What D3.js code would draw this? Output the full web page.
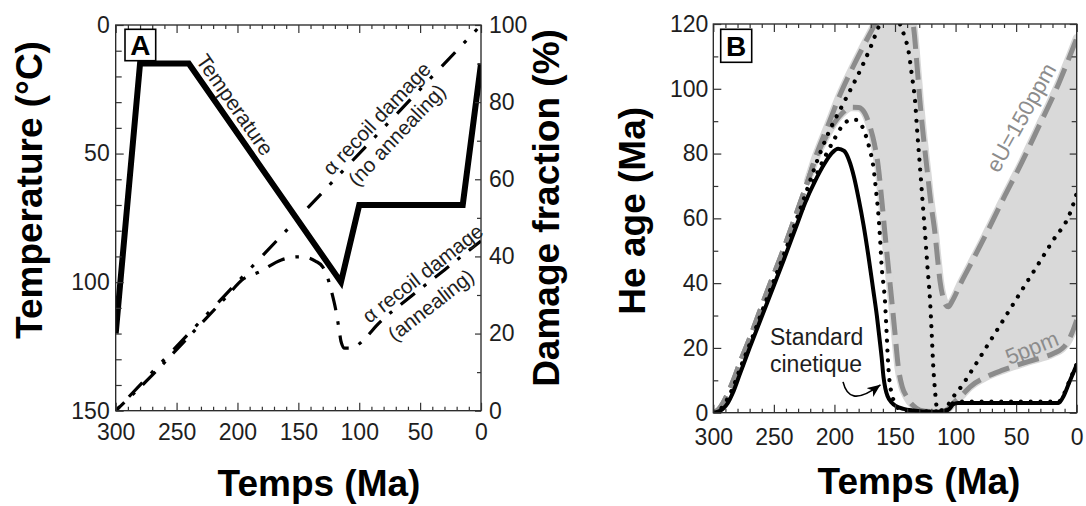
<!DOCTYPE html>
<html><head><meta charset="utf-8">
<script src="https://cdn.jsdelivr.net/npm/d3@7"></script>
<style>
body{margin:0;background:#fff;}
svg{display:block;font-family:"Liberation Sans",Arial,Helvetica,sans-serif;}
</style></head><body>
<svg id="chart" width="1086" height="506"></svg>
<script>
// ---------- DATA : panel A ----------
const tempTime = [300, 280, 240, 115, 100, 15, 0];
const tempVal  = [120, 15, 15, 100, 70, 70, 15];

const noAnnealTime = [300, 0];
const noAnnealVal  = [0, 100];

const annealTime = [300, 270, 240, 210, 195, 182, 164, 150, 144, 136, 130, 126, 122.5, 119.5, 116.5, 115, 112, 107, 95, 86, 60, 30, 15, 0];
const annealVal  = [0, 9.2, 19.2, 29.2, 34.2, 36, 39.1, 39.9, 39.8, 38.8, 37.3, 34.5, 30.6, 26.5, 21, 18, 16.2, 16.2, 18.8, 22, 29, 36.5, 40.3, 44];

const timeLabels = [300, 250, 200, 150, 100, 50, 0];
const tempLabels = [0, 50, 100, 150];
const damageLabels = [0, 20, 40, 60, 80, 100];

// ---------- DATA : panel B ----------
const stdTime = [300, 296, 292, 288, 284, 278, 270, 256, 242, 232, 224, 216, 208, 202, 197, 192, 188, 184, 180, 176, 172, 168, 165, 162.5, 161, 159.5, 158, 156, 153, 149, 143, 135, 120, 110, 105, 102, 98, 15, 11, 6, 0];
const stdAge  = [0, 0.3, 1.2, 3, 6, 12, 20, 33.5, 47, 57, 65, 71.5, 77, 80.2, 81.5, 80.8, 78, 73, 66, 58, 48.5, 38, 30, 22, 17, 11, 7.5, 5, 3.2, 2, 1.2, 0.7, 0.3, 0.4, 1.2, 2.6, 3, 3, 5, 9.5, 14.8];

const hiTime = [300, 296, 292, 288, 284, 278, 270, 256, 242, 230, 222, 216, 205, 195, 185, 177, 170, 163, 155, 148, 141, 137, 134.5, 132, 129.5, 126.5, 123.8, 120.5, 117, 115, 112.8, 110.5, 108, 106, 103, 95, 88, 75, 60.6, 45, 33, 15, 0];
const hiAge  = [0, 0.9, 3, 6, 9.5, 15.5, 23, 37, 50.5, 63, 71.5, 78.5, 89, 98.5, 106.5, 112.5, 117.5, 122.5, 127, 128.5, 126.5, 123, 118.5, 108, 96.5, 85, 76, 65, 55.4, 48, 40.5, 35.8, 33.2, 32.7, 34.3, 40.5, 45.5, 55, 66, 77.5, 87, 101.5, 115.6];

const loTime = [300, 296, 292, 288, 284, 278, 270, 256, 242, 230, 222, 216, 205, 194, 186, 180, 175, 170.6, 167, 163.8, 161, 158.3, 155.5, 152.7, 150, 147.3, 144, 140.3, 135, 129.4, 120, 110, 106, 101.9, 95, 88, 75, 60.6, 40, 19.3, 12, 8.3, 4, 0];
const loAge  = [0, 0.9, 3, 6, 9.5, 15.5, 23, 37, 50.5, 63, 71.5, 78, 86.5, 92.3, 94.3, 94.2, 92.5, 88.3, 83, 76, 66, 55.4, 45, 34.8, 24.5, 14.2, 8, 4.9, 2.2, 0.8, 0.4, 0.5, 1.2, 2.9, 5.3, 8, 11, 13.2, 15.8, 18.3, 19.8, 21.4, 24.5, 28.6];

const dotHiTime = [300, 296, 292, 288, 284, 278, 270, 256, 242, 230, 222, 216, 205, 191.2, 177.3, 170, 162.4, 155, 150, 145.9, 142, 139, 136, 133.5, 131.5, 129.4, 127.3, 125.2, 123.2, 121.1, 119.7, 118.4, 117, 115.6, 113.5, 110, 106, 101.9, 95, 88, 74.3, 60.6, 46.8, 33, 19.3, 5.5, 0];
const dotHiAge  = [0, 0.5, 2, 4.5, 7.5, 13.5, 21, 35, 48.5, 61, 69.5, 76, 86.3, 96.5, 106.8, 113, 120, 124, 123.5, 120, 116, 112, 104, 96.5, 86, 76, 65.5, 55.4, 45, 34.8, 24.5, 14.2, 7, 1.9, 0.6, 1, 2.5, 4.9, 8.2, 12.2, 20.4, 28.6, 36.9, 45.1, 53.3, 61.6, 67.7];

const dotLoTime = [300, 296, 292, 288, 284, 278, 270, 256, 242, 230, 222, 216, 207.8, 200, 194, 188, 182, 178, 174.8, 171, 167.9, 165.5, 163.8, 162.2, 161, 159.5, 158.3, 157.5, 156.9, 156.2, 155.5, 154.3, 152.7, 150.5, 147.3, 140, 120, 110, 105, 102, 98, 15, 11, 6, 0];
const dotLoAge  = [0, 0.4, 1.6, 3.8, 7, 13, 20.7, 34.3, 47.8, 59.5, 67, 72.5, 79, 84.5, 88.3, 90.2, 90.4, 89, 86.3, 81.5, 76, 68, 61.6, 53, 45.1, 39.5, 34.8, 29, 24.5, 19, 14.2, 9, 6, 3, 1.4, 0.6, 0.4, 0.5, 1.5, 3, 3.4, 3.4, 5.4, 9.8, 15];

const ageLabels = [0, 20, 40, 60, 80, 100, 120];

// ---------- helpers ----------
const zip = (a, b) => a.map((v, i) => [v, b[i]]);
const svg = d3.select("#chart");
const defs = svg.append("defs");
const ink = "#1e1e1e";
const grayLine = "#8c8c8c";
const fillGray = "#d9d9d9";

function clip(id, r) {
  defs.append("clipPath").attr("id", id).append("rect")
    .attr("x", r.left).attr("y", r.top)
    .attr("width", r.right - r.left).attr("height", r.bottom - r.top);
}

function ticks(g, axisFn, scale, major, minor, majLen, minLen, labels, pad, fs) {
  const minorVals = minor.filter(v => !major.includes(v));
  const a1 = axisFn(scale).tickValues(minorVals).tickSize(-minLen).tickSizeOuter(0).tickFormat("");
  const gm = g.append("g").call(a1);
  gm.select(".domain").remove();
  const a2 = axisFn(scale).tickValues(major).tickSize(-majLen).tickSizeOuter(0).tickPadding(pad)
    .tickFormat(labels ? d3.format("d") : "");
  const gM = g.append("g").call(a2);
  gM.select(".domain").remove();
  g.selectAll("line").attr("stroke", "#333").attr("stroke-width", 1.2);
  g.selectAll("text").attr("font-size", fs).attr("fill", ink)
    .attr("font-family", '"Liberation Sans",Arial,Helvetica,sans-serif');
}

// ================= PANEL A =================
const A = {left: 115.7, right: 481, top: 25, bottom: 410.7};
const xA = d3.scaleLinear().domain([300, 0]).range([A.left, A.right]);
const yT = d3.scaleLinear().domain([0, 150]).range([A.top, A.bottom]);
const yD = d3.scaleLinear().domain([0, 100]).range([A.bottom, A.top]);
clip("clipA", A);
const gA = svg.append("g");
const plotA = gA.append("g").attr("clip-path", "url(#clipA)");

const lineT = d3.line().x(d => xA(d[0])).y(d => yT(d[1]));
const lineD = d3.line().x(d => xA(d[0])).y(d => yD(d[1]));
const lineDc = d3.line().x(d => xA(d[0])).y(d => yD(d[1])).curve(d3.curveMonotoneX);

// annealing damage (dash-dot)
plotA.append("path").attr("d", lineDc(zip(annealTime, annealVal)))
  .attr("fill", "none").attr("stroke", "#000").attr("stroke-width", 3.2)
  .attr("stroke-dasharray", "18,11,3.5,11").attr("stroke-dashoffset", 6);

// no annealing damage (dash-dot-dot)
const pNo = plotA.append("path").attr("d", lineD(zip(noAnnealTime, noAnnealVal)))
  .attr("fill", "none").attr("stroke", "#000").attr("stroke-width", 3.2)
  .attr("stroke-dasharray", "19.5,12.5,3.5,12.5,3.5,13.5");
{
  const L = pNo.node().getTotalLength();
  const period = 65;
  const off = (period - ((L - 57) % period)) % period;
  pNo.attr("stroke-dashoffset", off);
}

// temperature
plotA.append("path").attr("d", lineT(zip(tempTime, tempVal)))
  .attr("fill", "none").attr("stroke", "#000").attr("stroke-width", 6)
  .attr("stroke-linejoin", "miter").attr("stroke-miterlimit", 10);

// frame + ticks
gA.append("rect").attr("x", A.left).attr("y", A.top)
  .attr("width", A.right - A.left).attr("height", A.bottom - A.top)
  .attr("fill", "none").attr("stroke", "#222").attr("stroke-width", 1.3);

const tenMa = d3.range(0, 301, 10);
ticks(gA.append("g").attr("transform", `translate(0,${A.bottom})`), d3.axisBottom, xA, timeLabels, tenMa, 8, 4, true, 12.6, 23);
ticks(gA.append("g").attr("transform", `translate(0,${A.top})`), d3.axisTop, xA, timeLabels, tenMa, 8, 4, false, 0, 23);
ticks(gA.append("g").attr("transform", `translate(${A.left},0)`), d3.axisLeft, yT, tempLabels, d3.range(0, 151, 10), 8, 6, true, 6, 23);
ticks(gA.append("g").attr("transform", `translate(${A.right},0)`), d3.axisRight, yD, damageLabels, d3.range(0, 101, 10), 6, 4, true, 8, 23);

// annotations A
gA.append("rect").attr("x", A.left + 9.3).attr("y", A.top + 4.3).attr("width", 30.7).attr("height", 31.4)
  .attr("fill", "#fff").attr("stroke", "#000").attr("stroke-width", 1.6);
gA.append("text").attr("x", A.left + 9.3 + 15.35).attr("y", A.top + 4.3 + 26)
  .attr("text-anchor", "middle").attr("font-size", 28).attr("font-weight", "bold").text("A");

function rotText(g, x, y, ang, txt, fs, fill) {
  g.append("text").attr("transform", `translate(${x},${y}) rotate(${ang})`)
    .attr("text-anchor", "middle").attr("dy", "0.35em").attr("font-size", fs)
    .attr("fill", fill || ink).text(txt);
}
rotText(gA, xA(202), yT(31), 55, "Temperature", 21);
rotText(gA, xA(85.7), yD(75.8), -46.6, "\u03b1 recoil damage", 20.5);
rotText(gA, xA(69.2), yD(71.5), -46.6, "(no annealing)", 20.5);
rotText(gA, xA(48), yD(35.6), -38, "\u03b1 recoil damage", 20.5);
rotText(gA, xA(41.2), yD(27.4), -38, "(annealing)", 20.5);

// axis titles A
svg.append("text").attr("transform", "translate(42,190) rotate(-90)").attr("text-anchor", "middle")
  .attr("font-size", 37).attr("font-weight", "bold").attr("fill", "#000").text("Temperature (\u00b0C)");
svg.append("text").attr("transform", "translate(559,208) rotate(-90)").attr("text-anchor", "middle")
  .attr("font-size", 37).attr("font-weight", "bold").attr("fill", "#000").text("Damage fraction (%)");
svg.append("text").attr("x", 319).attr("y", 496).attr("text-anchor", "middle")
  .attr("font-size", 37).attr("font-weight", "bold").attr("fill", "#000").text("Temps (Ma)");

// ================= PANEL B =================
const B = {left: 713.3, right: 1076.7, top: 24, bottom: 412.7};
const xB = d3.scaleLinear().domain([300, 0]).range([B.left, B.right]);
const yB = d3.scaleLinear().domain([0, 120]).range([B.bottom, B.top]);
clip("clipB", B);
const gB = svg.append("g");
const plotB = gB.append("g").attr("clip-path", "url(#clipB)");
const lineB = d3.line().x(d => xB(d[0])).y(d => yB(d[1])).curve(d3.curveMonotoneX);

// envelope fill between eU curves
const hiPts = zip(hiTime, hiAge).filter(d => d[0] <= 222);
const loPts = zip(loTime, loAge).filter(d => d[0] <= 222);
const fillD = lineB(hiPts) + "L" + lineB(loPts.slice().reverse()).slice(1) + "Z";
plotB.append("path").attr("d", fillD).attr("fill", fillGray)
  .attr("stroke", fillGray).attr("stroke-width", 8).attr("stroke-linejoin", "round");

// dashed grey eU curves
[[hiTime, hiAge], [loTime, loAge]].forEach(([t, a]) => {
  plotB.append("path").attr("d", lineB(zip(t, a))).attr("fill", "none")
    .attr("stroke", grayLine).attr("stroke-width", 5).attr("stroke-dasharray", "22,9");
});
// dotted black curves
[[dotHiTime, dotHiAge], [dotLoTime, dotLoAge]].forEach(([t, a]) => {
  plotB.append("path").attr("d", lineB(zip(t, a))).attr("fill", "none")
    .attr("stroke", "#000").attr("stroke-width", 4.2).attr("stroke-linecap", "round")
    .attr("stroke-dasharray", "0.01,9.8");
});
// standard kinetics
plotB.append("path").attr("d", lineB(zip(stdTime, stdAge))).attr("fill", "none")
  .attr("stroke", "#000").attr("stroke-width", 4).attr("stroke-linejoin", "round");

// frame + ticks
gB.append("rect").attr("x", B.left).attr("y", B.top)
  .attr("width", B.right - B.left).attr("height", B.bottom - B.top)
  .attr("fill", "none").attr("stroke", "#222").attr("stroke-width", 1.3);
ticks(gB.append("g").attr("transform", `translate(0,${B.bottom})`), d3.axisBottom, xB, timeLabels, tenMa, 8, 4, true, 15.6, 23);
ticks(gB.append("g").attr("transform", `translate(0,${B.top})`), d3.axisTop, xB, timeLabels, tenMa, 8, 4, false, 0, 23);
ticks(gB.append("g").attr("transform", `translate(${B.left},0)`), d3.axisLeft, yB, ageLabels, d3.range(0, 121, 10), 8, 5, true, 5, 23);
ticks(gB.append("g").attr("transform", `translate(${B.right},0)`), d3.axisRight, yB, ageLabels, d3.range(0, 121, 10), 7, 5, false, 0, 23);

// annotations B
gB.append("rect").attr("x", B.left + 7.4).attr("y", B.top + 5.3).attr("width", 31).attr("height", 33)
  .attr("fill", "#fff").attr("stroke", "#000").attr("stroke-width", 1.6);
gB.append("text").attr("x", B.left + 7.4 + 15.5).attr("y", B.top + 5.3 + 27)
  .attr("text-anchor", "middle").attr("font-size", 28).attr("font-weight", "bold").text("B");

gB.append("text").attr("x", xB(253.2)).attr("y", yB(20.9)).attr("font-size", 23).attr("fill", ink).text("Standard");
gB.append("text").attr("x", xB(253.2)).attr("y", yB(12.66)).attr("font-size", 23).attr("fill", ink).text("cinetique");

defs.append("marker").attr("id", "arrowHead").attr("viewBox", "-13 -6 14 12")
  .attr("refX", 0).attr("refY", 0).attr("markerWidth", 14).attr("markerHeight", 12)
  .attr("markerUnits", "userSpaceOnUse").attr("orient", "auto")
  .append("path").attr("d", "M0,0 L-13,-5.5 L-9.5,0 L-13,5.5 Z").attr("fill", "#000");
const aP = [[192.9, 9.5], [189.8, 4.8], [182.4, 3], [162, 8.6]];
gB.append("path")
  .attr("d", `M${xB(aP[0][0])},${yB(aP[0][1])} C${xB(aP[1][0])},${yB(aP[1][1])} ${xB(aP[2][0])},${yB(aP[2][1])} ${xB(aP[3][0])},${yB(aP[3][1])}`)
  .attr("fill", "none").attr("stroke", "#000").attr("stroke-width", 1.6).attr("marker-end", "url(#arrowHead)");

rotText(gB, xB(46.1), yB(91.1), -61, "eU=150ppm", 22, grayLine);
rotText(gB, xB(37.1), yB(20.1), -22, "5ppm", 22, grayLine);

// axis titles B
svg.append("text").attr("transform", "translate(645.3,210.8) rotate(-90)").attr("text-anchor", "middle")
  .attr("font-size", 37).attr("font-weight", "bold").attr("fill", "#000").text("He age (Ma)");
svg.append("text").attr("x", 919).attr("y", 494).attr("text-anchor", "middle")
  .attr("font-size", 37).attr("font-weight", "bold").attr("fill", "#000").text("Temps (Ma)");
</script>
</body></html>
